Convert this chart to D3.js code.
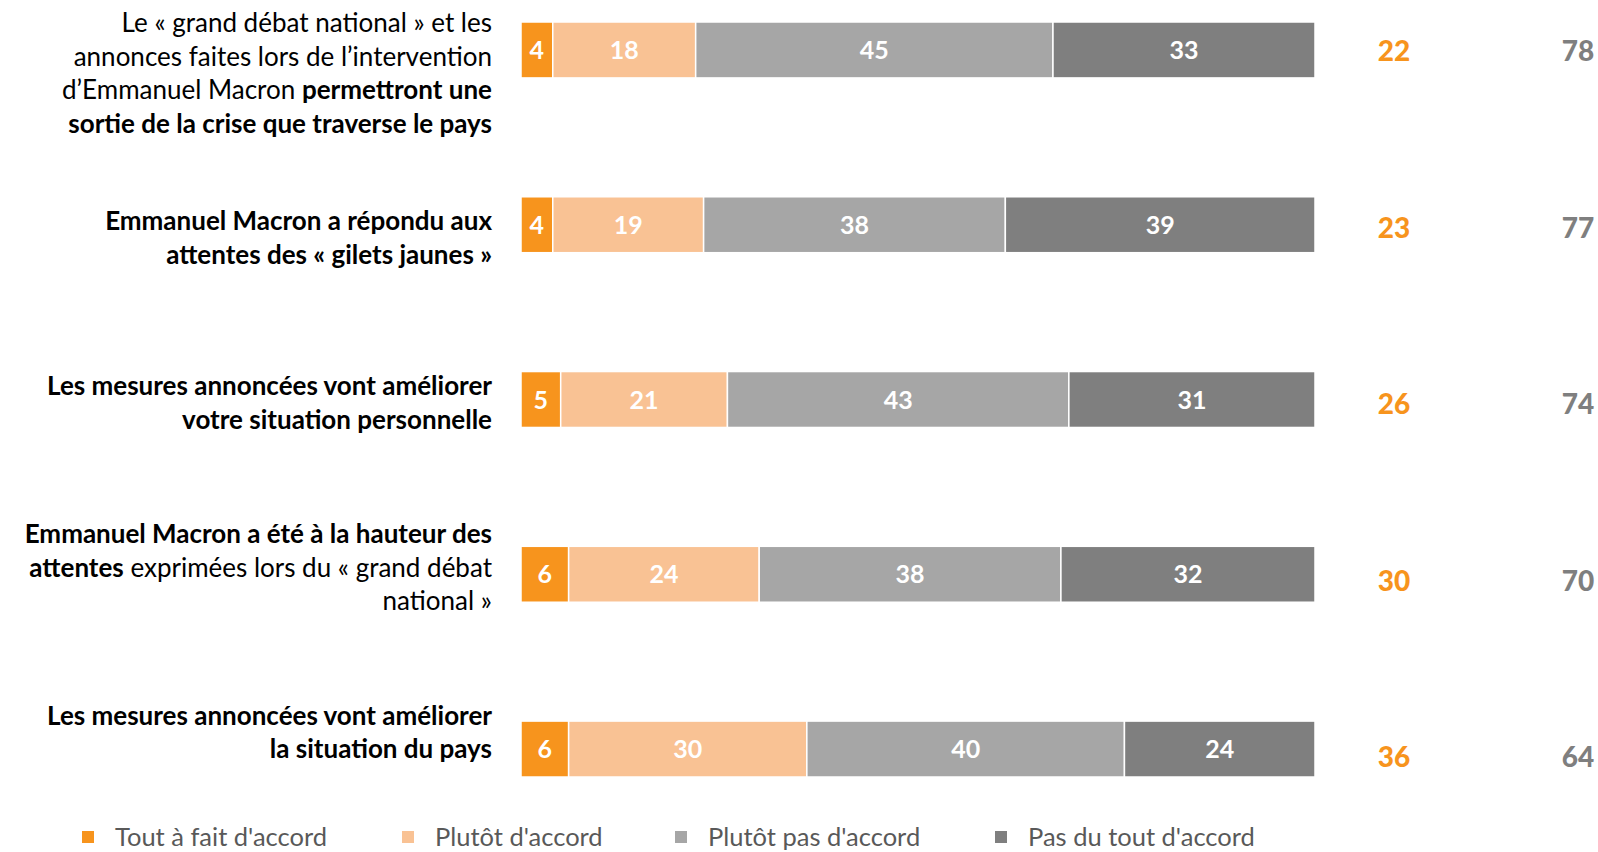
<!DOCTYPE html>
<html>
<head>
<meta charset="utf-8">
<script src="https://cdn.jsdelivr.net/npm/d3@7"></script>
<style>
  body { margin: 0; background: #fff; }
  svg { display: block; }
</style>
</head>
<body>
<script>
// question labels, one array of lines per row, each line = [text, bold]
var questions = [
  [[["Le « grand débat national » et les", false]],
   [["annonces faites lors de l’intervention", false]],
   [["d’Emmanuel Macron ", false], ["permettront une", true]],
   [["sortie de la crise que traverse le pays", true]]],
  [[["Emmanuel Macron a répondu aux", true]],
   [["attentes des « gilets jaunes »", true]]],
  [[["Les mesures annoncées vont améliorer", true]],
   [["votre situation personnelle", true]]],
  [[["Emmanuel Macron a été à la hauteur des", true]],
   [["attentes", true], [" exprimées lors du « grand débat", false]],
   [["national »", false]]],
  [[["Les mesures annoncées vont améliorer", true]],
   [["la situation du pays", true]]]
];

var seriesNames = ["Tout à fait d'accord", "Plutôt d'accord", "Plutôt pas d'accord", "Pas du tout d'accord"];
var toutAFait = [4, 4, 5, 6, 6];
var plutot = [18, 19, 21, 24, 30];
var plutotPas = [45, 38, 43, 38, 40];
var pasDuTout = [33, 39, 31, 32, 24];
var totalAccord = [22, 23, 26, 30, 36];
var totalPasAccord = [78, 77, 74, 70, 64];

var colors = ["#F7941D", "#F9C294", "#A6A6A6", "#7F7F7F"];

var main = function() {
  var width = 1598, height = 852;
  var font = "Lato, 'Open Sans', sans-serif";

  var svg = d3.select("body")
    .append("svg")
    .attr("width", width)
    .attr("height", height);

  var rows = d3.range(questions.length);
  var series = [toutAFait, plutot, plutotPas, pasDuTout];

  var x = d3.scaleLinear().domain([0, 100]).range([521, 1315]);
  var y = d3.scaleBand().domain(rows).range([22, 777]).paddingInner(0.68);
  var yLabel = d3.scalePoint().domain(rows).range([73, 732]);
  var yTotal = d3.scalePoint().domain(rows).range([51, 757]);

  // stacked segments
  var stack = rows.map(function(i) {
    var acc = 0;
    return series.map(function(s, k) {
      var seg = {row: i, k: k, v: s[i], x0: acc, x1: acc + s[i]};
      acc += s[i];
      return seg;
    });
  });

  var g = svg.append("g").selectAll("g")
    .data(stack)
    .enter()
    .append("g");

  g.selectAll("rect")
    .data(function(d) { return d; })
    .enter()
    .append("rect")
    .attr("x", function(d) { return x(d.x0); })
    .attr("y", function(d) { return y(d.row); })
    .attr("width", function(d) { return x(d.x1) - x(d.x0); })
    .attr("height", y.bandwidth())
    .attr("fill", function(d) { return colors[d.k]; })
    .attr("stroke", "#fff")
    .attr("stroke-width", 1.5);

  g.selectAll("text")
    .data(function(d) { return d; })
    .enter()
    .append("text")
    .attr("x", function(d) { return (x(d.x0) + x(d.x1)) / 2; })
    .attr("y", function(d) { return y(d.row) + y.bandwidth() / 2; })
    .attr("dy", "0.36em")
    .attr("text-anchor", "middle")
    .attr("fill", "#fff")
    .style("font-family", font)
    .style("font-weight", "bold")
    .style("font-size", "25px")
    .text(function(d) { return d.v; });

  // totals on the right
  svg.append("g").selectAll("text")
    .data(rows)
    .enter()
    .append("text")
    .attr("x", 1394)
    .attr("y", function(i) { return yTotal(i); })
    .attr("dy", "0.36em")
    .attr("text-anchor", "middle")
    .attr("fill", "#F7941D")
    .style("font-family", font)
    .style("font-weight", "900")
    .style("font-size", "28px")
    .text(function(i) { return totalAccord[i]; });

  svg.append("g").selectAll("text")
    .data(rows)
    .enter()
    .append("text")
    .attr("x", 1578)
    .attr("y", function(i) { return yTotal(i); })
    .attr("dy", "0.36em")
    .attr("text-anchor", "middle")
    .attr("fill", "#7F7F7F")
    .style("font-family", font)
    .style("font-weight", "900")
    .style("font-size", "28px")
    .text(function(i) { return totalPasAccord[i]; });

  // question labels
  var lineH = 33.6;
  var lab = svg.append("g").selectAll("g")
    .data(rows)
    .enter()
    .append("g");

  lab.each(function(i) {
    var lines = questions[i];
    var top = yLabel(i) - (lines.length - 1) * lineH / 2;
    var sel = d3.select(this);
    lines.forEach(function(parts, j) {
      var t = sel.append("text")
        .attr("x", 492)
        .attr("y", top + j * lineH)
        .attr("dy", "0.36em")
        .attr("text-anchor", "end")
        .attr("fill", "#000")
        .style("font-family", font)
        .style("font-size", "26px");
      parts.forEach(function(p) {
        t.append("tspan")
          .style("font-weight", p[1] ? "bold" : "normal")
          .text(p[0]);
      });
    });
  });

  // legend
  var legX = [88, 408, 681, 1001];
  var leg = svg.append("g").selectAll("g")
    .data(seriesNames)
    .enter()
    .append("g")
    .attr("transform", function(d, k) { return "translate(" + legX[k] + ",837)"; });

  leg.append("rect")
    .attr("x", -6)
    .attr("y", -6)
    .attr("width", 12)
    .attr("height", 12)
    .attr("fill", function(d, k) { return colors[k]; });

  leg.append("text")
    .attr("x", 27)
    .attr("dy", "0.34em")
    .attr("fill", "#595959")
    .style("font-family", font)
    .style("font-size", "25.5px")
    .text(function(d) { return d; });
}

main();
</script>
</body>
</html>
